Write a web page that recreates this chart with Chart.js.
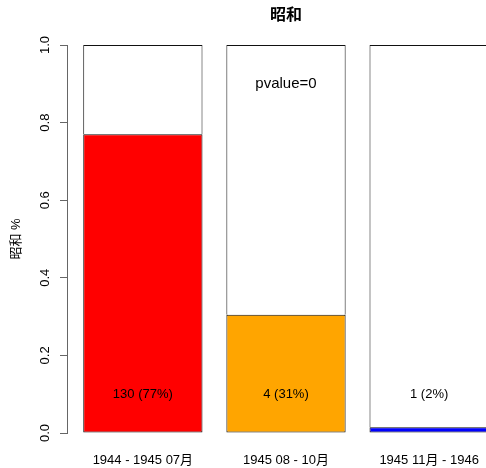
<!DOCTYPE html>
<html>
<head>
<meta charset="utf-8">
<script src="https://cdn.jsdelivr.net/npm/chart.js@4"></script>
<style>
html, body { margin: 0; padding: 0; overflow: hidden; background: #fff; }
#wrap { width: 505px; height: 468px; }
</style>
</head>
<body>
<div id="wrap"><canvas id="chart"></canvas></div>
<script>
// data
const categories = ['1944 - 1945 07月', '1945 08 - 10月', '1945 11月 - 1946'];
const counts = [130, 4, 1];
const percentLabels = ['77%', '31%', '2%'];
const shares = [0.77, 0.305, 0.015];
const yTicks = [0, 0.2, 0.4, 0.6, 0.8, 1.0];
const pvalueText = 'pvalue=0';

const barColors = ['#ff0000', '#ffa500', '#0000ff'];
const FONT = '"Liberation Sans", "Noto Sans CJK JP", sans-serif';

// barplot style positions: width 1, space 0.2
const barMids = categories.map((c, i) => 0.7 + i * 1.2);

const barText = {
    id: 'barText',
    afterDatasetsDraw(chart) {
        const {ctx, scales: {x, y}} = chart;
        ctx.save();
        ctx.fillStyle = '#000';
        ctx.textAlign = 'center';
        ctx.textBaseline = 'middle';
        ctx.font = '13px ' + FONT;
        counts.forEach((n, i) => {
            ctx.fillText(n + ' (' + percentLabels[i] + ')', x.getPixelForValue(barMids[i]), y.getPixelForValue(0.1));
        });
        ctx.font = '15px ' + FONT;
        ctx.fillText(pvalueText, x.getPixelForValue(barMids[1]), y.getPixelForValue(0.9));
        ctx.restore();
    }
};

new Chart(document.getElementById('chart'), {
    type: 'bar',
    data: {
        datasets: [
            {
                data: shares.map((v, i) => ({x: barMids[i], y: v})),
                backgroundColor: barColors,
                borderColor: '#111',
                borderWidth: 1,
                borderSkipped: false,
                categoryPercentage: 1,
                barPercentage: 1 / 1.2
            },
            {
                // rest up to 1, bottom edge shared with the coloured part
                data: shares.map((v, i) => ({x: barMids[i], y: 1 - v})),
                backgroundColor: '#fff',
                borderColor: '#111',
                borderWidth: 1,
                borderSkipped: 'start',
                categoryPercentage: 1,
                barPercentage: 1 / 1.2
            }
        ]
    },
    options: {
        responsive: true,
        maintainAspectRatio: false,
        animation: false,
        events: [],
        layout: { padding: 0 },
        plugins: {
            legend: { display: false },
            tooltip: { enabled: false },
            title: {
                display: true,
                text: '昭和',
                fullSize: false,
                color: '#000',
                font: { family: FONT, size: 16, weight: 'bold' },
                padding: { top: 6, bottom: 19.8 }
            }
        },
        scales: {
            x: {
                type: 'linear',
                stacked: true,
                offset: false,
                min: 0.064,
                max: 3.736,
                grid: { display: false, drawTicks: false, offset: false },
                border: { display: false },
                afterBuildTicks: s => { s.ticks = barMids.map(v => ({value: v})); },
                afterFit: s => { s.height = 35; },
                ticks: {
                    autoSkip: false,
                    maxRotation: 0,
                    padding: 20,
                    color: '#000',
                    font: { family: FONT, size: 13 },
                    callback: (v, i) => categories[i]
                }
            },
            y: {
                stacked: true,
                min: 0,
                max: 1,
                grid: { drawOnChartArea: false, drawTicks: true, tickLength: 7, color: '#666' },
                border: { display: true, color: '#666' },
                afterBuildTicks: s => { s.ticks = yTicks.map(v => ({value: v})); },
                afterFit: s => { s.width = 67; },
                ticks: {
                    minRotation: 90,
                    maxRotation: 90,
                    crossAlign: 'center',
                    padding: 6,
                    color: '#000',
                    font: { family: FONT, size: 13 },
                    callback: v => v.toFixed(1)
                },
                title: {
                    display: true,
                    text: '昭和 %',
                    color: '#000',
                    font: { family: FONT, size: 13 },
                    padding: { top: 9, bottom: 0 }
                }
            }
        }
    },
    plugins: [barText]
});
</script>
</body>
</html>
